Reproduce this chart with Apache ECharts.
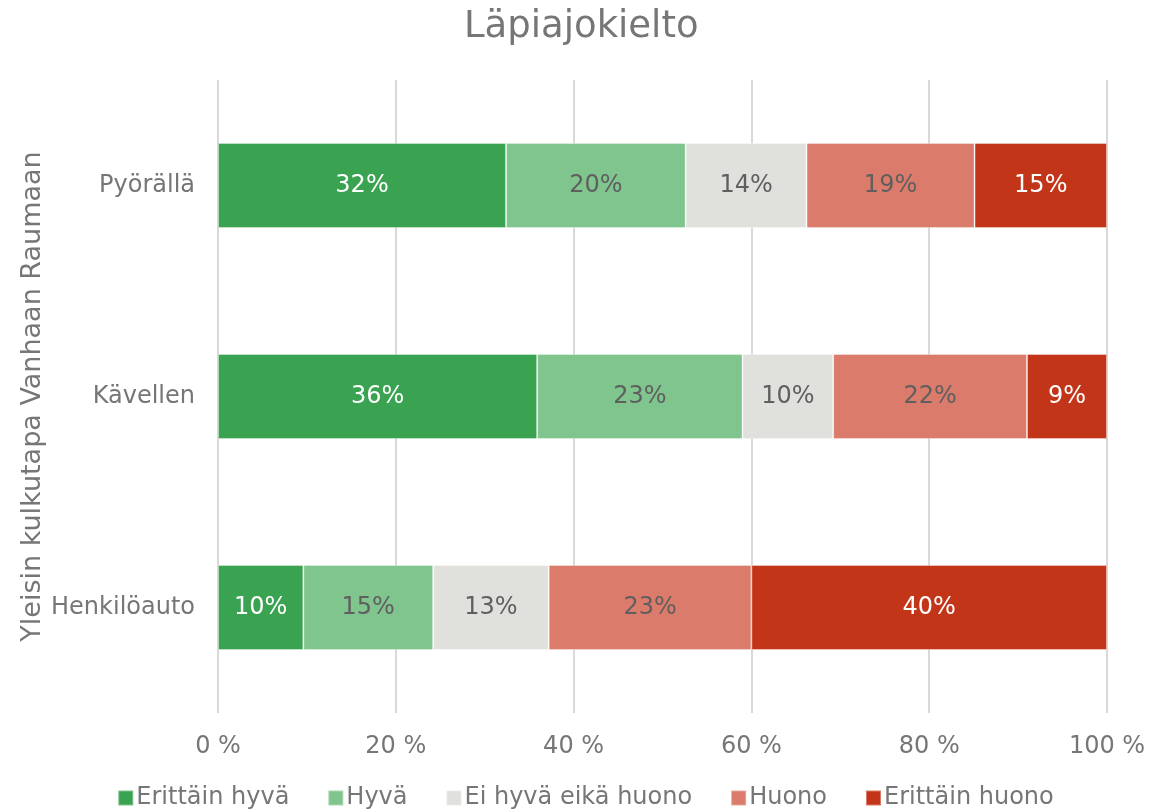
<!DOCTYPE html>
<html><head><meta charset="utf-8">
<script src="https://cdn.jsdelivr.net/npm/echarts@6/dist/echarts.min.js"></script>
<style>html,body{margin:0;padding:0;background:#fff}#c{width:1171px;height:809px}</style>
</head><body><div id="c"></div>
<script>
const categories = ['Pyörällä', 'Kävellen', 'Henkilöauto'];
const seriesNames = ['Erittäin hyvä', 'Hyvä', 'Ei hyvä eikä huono', 'Huono', 'Erittäin huono'];
const erittainHyva = [32.4, 35.9, 9.6];
const hyva = [20.2, 23.1, 14.6];
const eiHyvaEikaHuono = [13.6, 10.2, 13.0];
const huono = [18.9, 21.8, 22.8];
const erittainHuono = [14.9, 9.0, 40.0];
const xTicks = [0, 20, 40, 60, 80, 100];

const colors = ['#3AA351', '#80C48E', '#E0E0DC', '#DB7B6B', '#C33518'];
const labelColors = ['#ffffff', '#5f5f5f', '#5f5f5f', '#5f5f5f', '#ffffff'];
const values = [erittainHyva, hyva, eiHyvaEikaHuono, huono, erittainHuono];
const FONT = 'DejaVu Sans';

const chart = echarts.init(document.getElementById('c'));
chart.setOption({
  animation: false,
  textStyle: { fontFamily: FONT },
  title: {
    text: 'Läpiajokielto', left: 459, top: 4,
    textStyle: { fontFamily: FONT, fontSize: 37, fontWeight: 'normal', color: '#767676' }
  },
  legend: {
    top: 786, left: 'center', itemWidth: 15, itemHeight: 15, itemGap: 38,
    icon: 'rect', padding: 0,
    textStyle: { fontFamily: FONT, fontSize: 24, color: '#767676', padding: [0, 0, 0, -2] },
    data: seriesNames
  },
  grid: { left: 218, right: 64, top: 80, bottom: 96, containLabel: false },
  xAxis: {
    type: 'value', min: xTicks[0], max: xTicks[xTicks.length - 1], interval: 20,
    axisLine: { show: false }, axisTick: { show: false },
    splitLine: { lineStyle: { color: '#d9d9d9', width: 2 } },
    axisLabel: { formatter: v => v + ' %', fontFamily: FONT, fontSize: 24, color: '#767676', margin: 22 }
  },
  yAxis: {
    type: 'category', data: categories, inverse: true,
    name: 'Yleisin kulkutapa Vanhaan Raumaan', nameLocation: 'middle', nameGap: 172, nameRotate: 90,
    nameMoveOverlap: false,
    nameTextStyle: { fontFamily: FONT, fontSize: 27, color: '#767676' },
    axisLine: { show: false }, axisTick: { show: false },
    axisLabel: { fontFamily: FONT, fontSize: 24, color: '#767676', margin: 23 }
  },
  series: seriesNames.map((name, i) => ({
    name, type: 'bar', stack: 'total', barWidth: 85,
    data: values[i],
    itemStyle: { color: colors[i], borderColor: 'rgba(255,255,255,0.35)', borderWidth: 1 },
    label: {
      show: true, position: 'inside', formatter: p => Math.round(p.value) + '%',
      fontFamily: FONT, fontSize: 24, color: labelColors[i]
    }
  }))
});
</script></body></html>
